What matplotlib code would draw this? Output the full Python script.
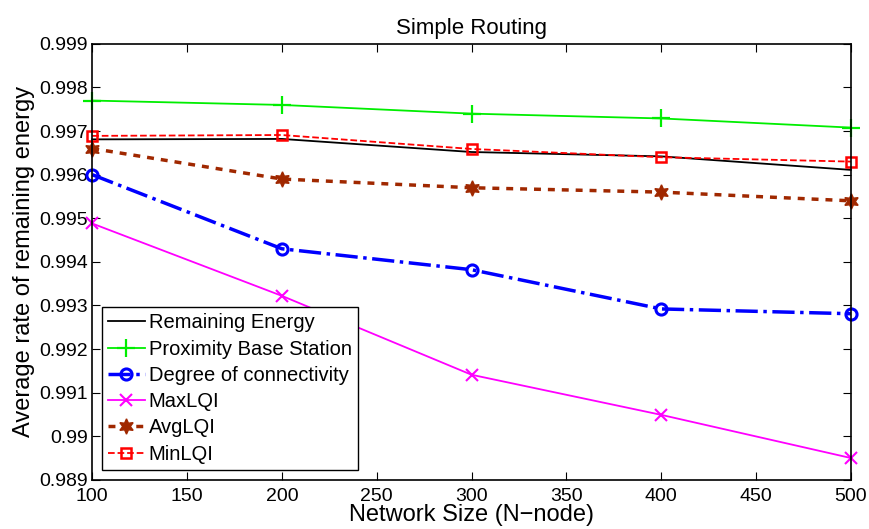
import matplotlib
matplotlib.use('Agg')
from matplotlib import pyplot as pl

pl.rcParams['font.family'] = ['Liberation Sans', 'DejaVu Sans']

nodes = [100, 200, 300, 400, 500]
remaining = [0.99681, 0.99682, 0.99652, 0.99642, 0.99611]
proximity = [0.99770, 0.99760, 0.99740, 0.99729, 0.99708]
degree = [0.99600, 0.99430, 0.99382, 0.99292, 0.99281]
maxlqi = [0.99488, 0.99322, 0.99141, 0.99049, 0.98950]
avglqi = [0.99660, 0.99590, 0.99570, 0.99560, 0.99540]
minlqi = [0.99689, 0.99691, 0.99659, 0.99640, 0.99630]

fig = pl.figure(figsize=(8.7, 5.29), dpi=100)
ax = fig.add_axes([0.106, 0.093, 0.872, 0.824])

kw = dict(clip_on=False)
ax.plot(nodes, remaining, color='black', lw=1.3, label='Remaining Energy', **kw)
ax.plot(nodes, proximity, color='#00ee00', lw=1.3, marker='+', ms=13, mew=1.6,
        label='Proximity Base Station', **kw)
ax.plot(nodes, degree, color='#0000ff', lw=2.5, ls='-.', marker='o', ms=8,
        mfc='none', mew=2.2, label='Degree of connectivity', **kw)
ax.plot(nodes, maxlqi, color='#ff00ff', lw=1.3, marker='x', ms=8, mew=1.5,
        label='MaxLQI', **kw)
ax.plot(nodes, avglqi, color='#a02800', lw=2.5, ls=(0, (2, 2)),
        marker=(6, 1, 0), ms=11, label='AvgLQI', **kw)
ax.plot(nodes, minlqi, color='#ff0000', lw=1.3, ls='--', marker='s', ms=7,
        mfc='none', mew=1.8, label='MinLQI', **kw)

ax.set_xlim(100, 500)
ax.set_ylim(0.989, 0.999)
ax.set_xticks(range(100, 501, 50))
ax.set_yticks([0.989 + 0.001 * i for i in range(11)])
ax.set_yticklabels(['0.989', '0.99', '0.991', '0.992', '0.993', '0.994',
                    '0.995', '0.996', '0.997', '0.998', '0.999'])
ax.tick_params(direction='in', top=True, right=True, labelsize=14, length=6,
               pad=3)
ax.tick_params(axis='x', pad=6)
ax.set_xlabel('Network Size (N\u2212node)', fontsize=17, labelpad=-1)
ax.set_ylabel('Average rate of remaining energy', fontsize=17, labelpad=3)
ax.set_title('Simple Routing', fontsize=16, pad=7)
for s in ax.spines.values():
    s.set_linewidth(1.2)

leg = ax.legend(loc='lower left', fontsize=14.5, handlelength=1.8,
                handletextpad=0.2, borderaxespad=0.5, labelspacing=0.36,
                borderpad=0.3, fancybox=False, framealpha=1, edgecolor='black')
leg.get_frame().set_linewidth(1.0)

fig.savefig('out.png')
